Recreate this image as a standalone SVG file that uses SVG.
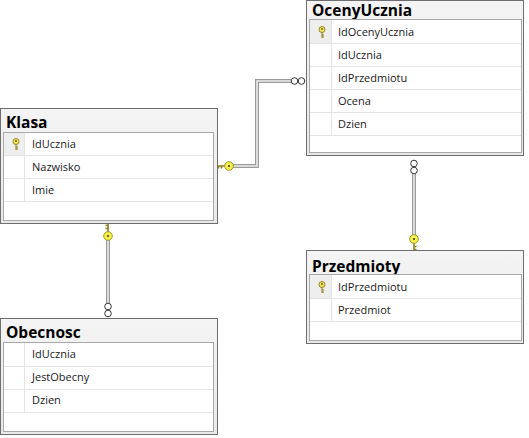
<svg xmlns="http://www.w3.org/2000/svg" width="529" height="438" viewBox="0 0 529 438">
<style>
.outer{fill:url(#hdr);stroke:#6e6e6e;stroke-width:1}
.inner{fill:#ffffff;stroke:#a8a8a8;stroke-width:1}
.sep{stroke:#e4e4e4;stroke-width:1}
.title{font-family:"Open Sans","Noto Sans","Liberation Sans",sans-serif;font-weight:bold;font-size:15.5px;fill:#000}
.col{font-family:"Open Sans","Noto Sans","Liberation Sans",sans-serif;font-size:11px;fill:#1a1a1a}
.keycell{fill:#eeeeee}
.lnOut{fill:none;stroke:#9a9a9a;stroke-width:4}
.lnIn{fill:none;stroke:#ededed;stroke-width:1.6}
</style>
<defs>
<linearGradient id="hdr" x1="0" y1="0" x2="0" y2="1">
<stop offset="0" stop-color="#f4f4f4"/>
<stop offset="1" stop-color="#e9e9e9"/>
</linearGradient>
<g id="rowkey">
<circle cx="0" cy="-2.5" r="3" fill="#f5e66a" stroke="#8a7a10" stroke-width="0.9"/>
<circle cx="0" cy="-3" r="0.9" fill="#6a5a00"/>
<path d="M0,0.5 V6 M0,3 H2 M0,5 H2" stroke="#8a7a10" stroke-width="1" fill="none"/>
</g>
<g id="endkey">
<path d="M-4,0 H-12 M-7.5,0 V2.5 M-10.5,0 V2.5" stroke="#8a8020" stroke-width="1.6" fill="none"/>
<circle cx="0" cy="0" r="4.3" fill="#f7f04a" stroke="#a09a20" stroke-width="1"/>
<circle cx="0" cy="0" r="1" fill="#333"/>
</g>
<g id="inf">
<circle cx="-3.5" cy="0" r="3.3" fill="#fff" stroke="#333" stroke-width="1"/>
<circle cx="3.5" cy="0" r="3.3" fill="#fff" stroke="#333" stroke-width="1"/>
</g>
</defs>
<rect width="529" height="438" fill="#ffffff"/>

<g id="connectors">
<path class="lnOut" d="M233,166 H257 V81 H291"/>
<path class="lnIn" d="M233,166 H257 V81 H291"/>
<use href="#endkey" transform="translate(229,166)"/>
<use href="#inf" transform="translate(298,81)"/>

<path class="lnOut" d="M108,240 V303"/>
<path class="lnIn" d="M108,240 V303"/>
<use href="#endkey" transform="translate(108,236) rotate(90)"/>
<use href="#inf" transform="translate(108,310) rotate(90)"/>

<path class="lnOut" d="M414,174 V235"/>
<path class="lnIn" d="M414,174 V235"/>
<use href="#inf" transform="translate(414,167) rotate(90)"/>
<use href="#endkey" transform="translate(414,239) rotate(-90)"/>
</g>

<g id="Klasa">
<rect class="outer" x="0.5" y="108.5" width="217" height="115"/>
<text class="title" x="6" y="128">Klasa</text>
<rect class="inner" x="3.5" y="132.5" width="210" height="88"/>
<rect class="keycell" x="4" y="133" width="20" height="22"/>
<line class="sep" x1="4" y1="155.5" x2="213" y2="155.5"/>
<line class="sep" x1="4" y1="178.5" x2="213" y2="178.5"/>
<line class="sep" x1="4" y1="201.5" x2="213" y2="201.5"/>
<line class="sep" x1="24.5" y1="133" x2="24.5" y2="201"/>
<use href="#rowkey" transform="translate(16,144)"/>
<text class="col" x="32" y="148">IdUcznia</text>
<text class="col" x="32" y="171">Nazwisko</text>
<text class="col" x="32" y="194">Imie</text>
</g>

<g id="OcenyUcznia">
<rect class="outer" x="306.5" y="0.5" width="217" height="155"/>
<text class="title" x="312" y="16">OcenyUcznia</text>
<rect class="inner" x="309.5" y="19.5" width="212" height="133"/>
<rect class="keycell" x="310" y="20" width="21" height="23"/>
<line class="sep" x1="310" y1="43.5" x2="521" y2="43.5"/>
<line class="sep" x1="310" y1="66.5" x2="521" y2="66.5"/>
<line class="sep" x1="310" y1="89.5" x2="521" y2="89.5"/>
<line class="sep" x1="310" y1="112.5" x2="521" y2="112.5"/>
<line class="sep" x1="310" y1="135.5" x2="521" y2="135.5"/>
<line class="sep" x1="331.5" y1="20" x2="331.5" y2="135"/>
<use href="#rowkey" transform="translate(322,32)"/>
<text class="col" x="338" y="36">IdOcenyUcznia</text>
<text class="col" x="338" y="59">IdUcznia</text>
<text class="col" x="338" y="82">IdPrzedmiotu</text>
<text class="col" x="338" y="105">Ocena</text>
<text class="col" x="338" y="128">Dzien</text>
</g>

<g id="Przedmioty">
<rect class="outer" x="306.5" y="250.5" width="217" height="93"/>
<text class="title" x="312" y="272">Przedmioty</text>
<rect class="inner" x="309.5" y="274.5" width="212" height="66"/>
<rect class="keycell" x="310" y="275" width="21" height="23"/>
<line class="sep" x1="310" y1="298.5" x2="521" y2="298.5"/>
<line class="sep" x1="310" y1="321.5" x2="521" y2="321.5"/>
<line class="sep" x1="331.5" y1="275" x2="331.5" y2="321"/>
<use href="#rowkey" transform="translate(322,287)"/>
<text class="col" x="338" y="291">IdPrzedmiotu</text>
<text class="col" x="338" y="314">Przedmiot</text>
</g>

<g id="Obecnosc">
<rect class="outer" x="0.5" y="318.5" width="217" height="116"/>
<text class="title" x="6" y="338">Obecnosc</text>
<rect class="inner" x="3.5" y="342.5" width="210" height="89"/>
<line class="sep" x1="4" y1="366.5" x2="213" y2="366.5"/>
<line class="sep" x1="4" y1="389.5" x2="213" y2="389.5"/>
<line class="sep" x1="4" y1="412.5" x2="213" y2="412.5"/>
<line class="sep" x1="24.5" y1="343" x2="24.5" y2="412"/>
<text class="col" x="32" y="358">IdUcznia</text>
<text class="col" x="32" y="381">JestObecny</text>
<text class="col" x="32" y="404">Dzien</text>
</g>
</svg>
